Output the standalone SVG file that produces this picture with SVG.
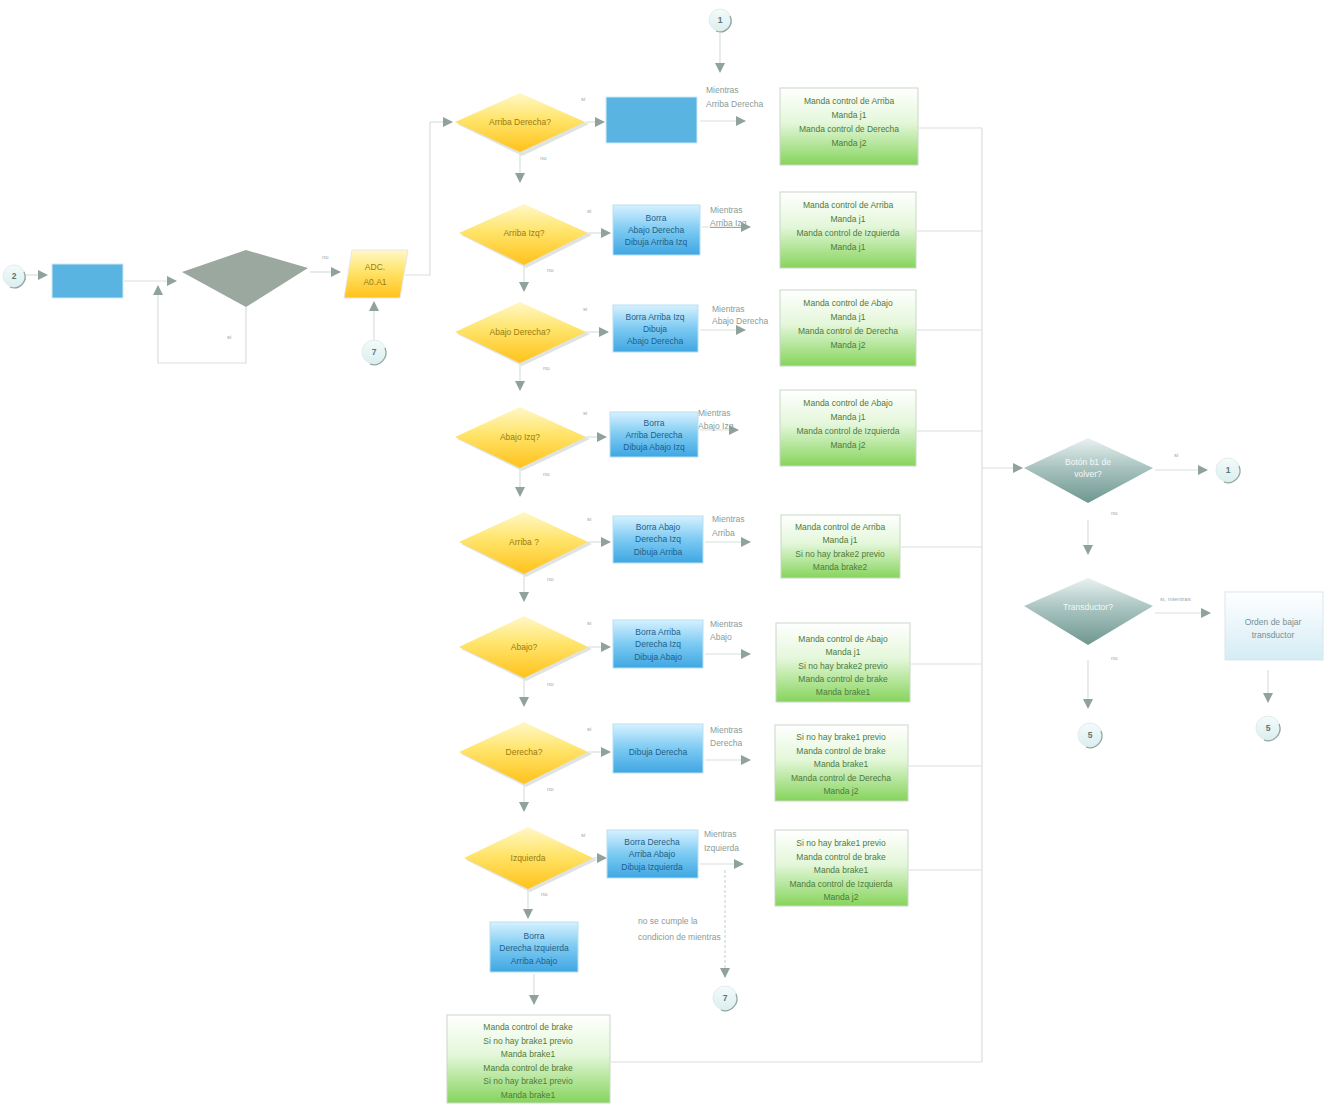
<svg xmlns="http://www.w3.org/2000/svg" width="1324" height="1105" viewBox="0 0 1324 1105">
<defs>
<marker id="ah" markerUnits="userSpaceOnUse" markerWidth="10" markerHeight="10" refX="9" refY="5" orient="auto"><path d="M0,0 L10,5 L0,10 z" fill="#8fa39c"/></marker>
<linearGradient id="gy" x1="0" y1="0" x2="0" y2="1"><stop offset="0" stop-color="#fff8c8"/><stop offset="0.45" stop-color="#ffe46a"/><stop offset="1" stop-color="#ffc21a"/></linearGradient>
<linearGradient id="gb" x1="0" y1="0" x2="0" y2="1"><stop offset="0" stop-color="#d6f1ff"/><stop offset="0.5" stop-color="#7ccaf2"/><stop offset="1" stop-color="#3fa6e2"/></linearGradient>
<linearGradient id="gg" x1="0" y1="0" x2="0" y2="1"><stop offset="0" stop-color="#ffffff"/><stop offset="0.45" stop-color="#e4f7da"/><stop offset="1" stop-color="#86d45c"/></linearGradient>
<linearGradient id="gt" x1="0" y1="0" x2="0" y2="1"><stop offset="0" stop-color="#e8f2f0"/><stop offset="0.45" stop-color="#a9c4c0"/><stop offset="1" stop-color="#6f9690"/></linearGradient>
<linearGradient id="gl" x1="0" y1="0" x2="0" y2="1"><stop offset="0" stop-color="#ffffff"/><stop offset="1" stop-color="#d4ecf6"/></linearGradient>
<linearGradient id="gc" x1="0" y1="0" x2="0" y2="1"><stop offset="0" stop-color="#f4fbfb"/><stop offset="1" stop-color="#dbeeee"/></linearGradient>
</defs>
<style>
.c{stroke:#d8dfdd;stroke-width:1.2;fill:none}
.ca{stroke:#d8dfdd;stroke-width:1.2;fill:none;marker-end:url(#ah)}
.dash{stroke:#d0d8d6;stroke-width:1.2;fill:none;stroke-dasharray:3 2;marker-end:url(#ah)}
.t{font-family:"Liberation Sans",Arial,sans-serif;font-size:8.5px;text-anchor:middle}
.lb{font-family:"Liberation Sans",Arial,sans-serif;font-size:8.5px;fill:#8a9c97}
.sm{font-family:"Liberation Sans",Arial,sans-serif;font-size:6px;fill:#9aaaa6}
.dy{fill:url(#gy)}
.sh{fill:#dfe3e2}
.yt{fill:#9a7a10}
.bb{fill:url(#gb);stroke:#b8dff2;stroke-width:1}
.bt{fill:#1f5f8a}
.gbx{fill:url(#gg);stroke:#c8d8c8;stroke-width:1}
.gt{fill:#4f7a3c}
.cc{fill:url(#gc);stroke:#e2ecec;stroke-width:1}
.arc{fill:none;stroke:#8fa6a2;stroke-width:1.3}
.ct{fill:#5d7470;font-weight:bold}
</style>

<g id="connectors">
<line class="ca" x1="720" y1="33" x2="720" y2="72"/>
<line class="ca" x1="26" y1="275" x2="47" y2="275"/>
<line class="ca" x1="124" y1="281" x2="176" y2="281"/>
<polyline class="c" points="246,307 246,363 158,363 158,300"/>
<line class="ca" x1="158" y1="300" x2="158" y2="286"/>
<line class="ca" x1="310" y1="272" x2="340" y2="272"/>
<line class="ca" x1="374" y1="340" x2="374" y2="302"/>
<polyline class="c" points="405,275 430,275 430,122"/>
<line class="ca" x1="430" y1="122" x2="452" y2="122"/>
<line class="ca" x1="520" y1="153" x2="520" y2="182"/>
<line class="ca" x1="524" y1="265" x2="524" y2="291"/>
<line class="ca" x1="520" y1="363" x2="520" y2="390"/>
<line class="ca" x1="520" y1="468" x2="520" y2="496"/>
<line class="ca" x1="524" y1="574" x2="524" y2="601"/>
<line class="ca" x1="524" y1="678" x2="524" y2="706"/>
<line class="ca" x1="524" y1="784" x2="524" y2="811"/>
<line class="ca" x1="528" y1="889" x2="528" y2="918"/>
<line class="ca" x1="534" y1="974" x2="534" y2="1004"/>
<line class="ca" x1="586" y1="122" x2="604" y2="122"/>
<line class="ca" x1="588" y1="233" x2="610" y2="233"/>
<line class="ca" x1="586" y1="332" x2="608" y2="332"/>
<line class="ca" x1="586" y1="437" x2="606" y2="437"/>
<line class="ca" x1="588" y1="542" x2="610" y2="542"/>
<line class="ca" x1="588" y1="647" x2="610" y2="647"/>
<line class="ca" x1="588" y1="752" x2="610" y2="752"/>
<line class="ca" x1="593" y1="858" x2="606" y2="858"/>
<line class="ca" x1="700" y1="121" x2="745" y2="121"/>
<line class="ca" x1="702" y1="227" x2="750" y2="227"/>
<line class="ca" x1="700" y1="330" x2="745" y2="330"/>
<line class="ca" x1="700" y1="430" x2="738" y2="430"/>
<line class="ca" x1="705" y1="542" x2="750" y2="542"/>
<line class="ca" x1="705" y1="654" x2="750" y2="654"/>
<line class="ca" x1="705" y1="760" x2="750" y2="760"/>
<line class="ca" x1="700" y1="864" x2="743" y2="864"/>
<line class="dash" x1="725" y1="870" x2="725" y2="977"/>
<line class="c" x1="919" y1="128" x2="982" y2="128"/>
<line class="c" x1="917" y1="231" x2="982" y2="231"/>
<line class="c" x1="917" y1="330" x2="982" y2="330"/>
<line class="c" x1="917" y1="431" x2="982" y2="431"/>
<line class="c" x1="901" y1="547" x2="982" y2="547"/>
<line class="c" x1="911" y1="664" x2="982" y2="664"/>
<line class="c" x1="909" y1="766" x2="982" y2="766"/>
<line class="c" x1="909" y1="870" x2="982" y2="870"/>
<line class="c" x1="611" y1="1062" x2="982" y2="1062"/>
<line class="c" x1="982" y1="128" x2="982" y2="1062"/>
<line class="ca" x1="982" y1="468" x2="1022" y2="468"/>
<line class="ca" x1="1155" y1="470" x2="1207" y2="470"/>
<line class="ca" x1="1088" y1="520" x2="1088" y2="554"/>
<line class="ca" x1="1155" y1="613" x2="1210" y2="613"/>
<line class="ca" x1="1088" y1="660" x2="1088" y2="708"/>
<line class="ca" x1="1268" y1="670" x2="1268" y2="702"/>
</g>

<g id="labels">
<text class="sm" x="322" y="259">no</text>
<text class="sm" x="227" y="339">si</text>
<text class="sm" x="581" y="101">si</text><text class="sm" x="540" y="160">no</text>
<text class="sm" x="587" y="213">si</text><text class="sm" x="547" y="272">no</text>
<text class="sm" x="583" y="311">si</text><text class="sm" x="543" y="370">no</text>
<text class="sm" x="583" y="415">si</text><text class="sm" x="543" y="476">no</text>
<text class="sm" x="587" y="521">si</text><text class="sm" x="547" y="581">no</text>
<text class="sm" x="587" y="625">si</text><text class="sm" x="547" y="686">no</text>
<text class="sm" x="587" y="731">si</text><text class="sm" x="547" y="791">no</text>
<text class="sm" x="581" y="837">si</text><text class="sm" x="541" y="896">no</text>
<text class="lb" x="706" y="93">Mientras</text><text class="lb" x="706" y="107">Arriba Derecha</text>
<text class="lb" x="710" y="213">Mientras</text><text class="lb" x="710" y="226" text-decoration="underline">Arriba Izq</text>
<text class="lb" x="712" y="312">Mientras</text><text class="lb" x="712" y="324">Abajo Derecha</text>
<text class="lb" x="698" y="416">Mientras</text><text class="lb" x="698" y="429">Abajo Izq</text>
<text class="lb" x="712" y="522">Mientras</text><text class="lb" x="712" y="536">Arriba</text>
<text class="lb" x="710" y="627">Mientras</text><text class="lb" x="710" y="640">Abajo</text>
<text class="lb" x="710" y="733">Mientras</text><text class="lb" x="710" y="746">Derecha</text>
<text class="lb" x="704" y="837">Mientras</text><text class="lb" x="704" y="851">Izquierda</text>
<text class="lb" x="638" y="924">no se cumple la</text><text class="lb" x="638" y="940">condicion de mientras</text>
<text class="sm" x="1174" y="457">si</text>
<text class="sm" x="1111" y="515">no</text>
<text class="sm" x="1160" y="601">si, mientras</text>
<text class="sm" x="1111" y="660">no</text>
</g>

<g id="c-top"><circle class="cc" cx="720" cy="20" r="11"/><path class="arc" d="M730,16 A11,11 0 0 1 716,31"/><text class="t ct" x="720" y="23">1</text></g>
<g id="c-2"><circle class="cc" cx="14" cy="276" r="11"/><path class="arc" d="M24,272 A11,11 0 0 1 10,287"/><text class="t ct" x="14" y="279">2</text></g>
<g id="c-7a"><circle class="cc" cx="374" cy="352" r="12"/><path class="arc" d="M385,348 A12,12 0 0 1 370,364"/><text class="t ct" x="374" y="355">7</text></g>
<g id="c-7b"><circle class="cc" cx="725" cy="998" r="12"/><path class="arc" d="M736,994 A12,12 0 0 1 721,1010"/><text class="t ct" x="725" y="1001">7</text></g>
<g id="c-1"><circle class="cc" cx="1228" cy="470" r="12"/><path class="arc" d="M1239,466 A12,12 0 0 1 1224,482"/><text class="t ct" x="1228" y="473">1</text></g>
<g id="c-5a"><circle class="cc" cx="1090" cy="735" r="12"/><path class="arc" d="M1101,731 A12,12 0 0 1 1086,747"/><text class="t ct" x="1090" y="738">5</text></g>
<g id="c-5b"><circle class="cc" cx="1268" cy="728" r="12"/><path class="arc" d="M1279,724 A12,12 0 0 1 1264,740"/><text class="t ct" x="1268" y="731">5</text></g>

<g id="n-left-rect"><rect x="52" y="264" width="71" height="34" fill="#5ab4e2" stroke="#cfe9f6"/></g>
<g id="n-left-diamond"><polygon points="246,250 308,268 246,307 182,272" fill="#9aa89f"/></g>
<g id="n-adc"><polygon points="352,250 408,250 400,298 344,298" fill="url(#gy)" stroke="#e6e6e6"/><text class="t yt" x="375" y="270">ADC.</text><text class="t yt" x="375" y="285">A0.A1</text></g>

<g id="d1"><polygon class="sh" points="522,95 589,124 522,156 457,124"/><polygon class="dy" points="520,93 585,122 520,152 455,122"/><text class="t yt" x="520" y="125">Arriba Derecha?</text></g>
<g id="d2"><polygon class="sh" points="526,206 592,235 526,268 461,235"/><polygon class="dy" points="524,204 588,233 524,265 459,233"/><text class="t yt" x="524" y="236">Arriba Izq?</text></g>
<g id="d3"><polygon class="sh" points="522,304 590,334 522,366 457,334"/><polygon class="dy" points="520,302 586,332 520,363 455,332"/><text class="t yt" x="520" y="335">Abajo Derecha?</text></g>
<g id="d4"><polygon class="sh" points="522,409 590,439 522,471 457,439"/><polygon class="dy" points="520,407 586,437 520,468 455,437"/><text class="t yt" x="520" y="440">Abajo Izq?</text></g>
<g id="d5"><polygon class="sh" points="526,514 592,544 526,577 461,544"/><polygon class="dy" points="524,512 588,542 524,574 459,542"/><text class="t yt" x="524" y="545">Arriba ?</text></g>
<g id="d6"><polygon class="sh" points="526,618 592,649 526,681 461,649"/><polygon class="dy" points="524,616 588,647 524,678 459,647"/><text class="t yt" x="524" y="650">Abajo?</text></g>
<g id="d7"><polygon class="sh" points="526,724 592,754 526,787 461,754"/><polygon class="dy" points="524,722 588,752 524,784 459,752"/><text class="t yt" x="524" y="755">Derecha?</text></g>
<g id="d8"><polygon class="sh" points="530,829 597,860 530,892 466,860"/><polygon class="dy" points="528,827 593,858 528,889 464,858"/><text class="t yt" x="528" y="861">Izquierda</text></g>

<g id="b1"><rect x="606" y="97" width="91" height="46" fill="#5ab4e2" stroke="#cfe9f6"/></g>
<g id="b2"><rect class="bb" x="613" y="205" width="87" height="50"/><text class="t bt" x="656" y="221">Borra</text><text class="t bt" x="656" y="233">Abajo Derecha</text><text class="t bt" x="656" y="245">Dibuja Arriba Izq</text></g>
<g id="b3"><rect class="bb" x="613" y="305" width="85" height="47"/><text class="t bt" x="655" y="320">Borra Arriba Izq</text><text class="t bt" x="655" y="332">Dibuja</text><text class="t bt" x="655" y="344">Abajo Derecha</text></g>
<g id="b4"><rect class="bb" x="610" y="412" width="88" height="45"/><text class="t bt" x="654" y="426">Borra</text><text class="t bt" x="654" y="438">Arriba Derecha</text><text class="t bt" x="654" y="450">Dibuja Abajo Izq</text></g>
<g id="b5"><rect class="bb" x="613" y="516" width="90" height="47"/><text class="t bt" x="658" y="530">Borra Abajo</text><text class="t bt" x="658" y="542">Derecha Izq</text><text class="t bt" x="658" y="555">Dibuja Arriba</text></g>
<g id="b6"><rect class="bb" x="613" y="620" width="90" height="48"/><text class="t bt" x="658" y="635">Borra Arriba</text><text class="t bt" x="658" y="647">Derecha Izq</text><text class="t bt" x="658" y="660">Dibuja Abajo</text></g>
<g id="b7"><rect class="bb" x="613" y="724" width="90" height="49"/><text class="t bt" x="658" y="755">Dibuja Derecha</text></g>
<g id="b8"><rect class="bb" x="607" y="830" width="91" height="48"/><text class="t bt" x="652" y="845">Borra Derecha</text><text class="t bt" x="652" y="857">Arriba Abajo</text><text class="t bt" x="652" y="870">Dibuja Izquierda</text></g>
<g id="b9"><rect class="bb" x="490" y="922" width="88" height="50"/><text class="t bt" x="534" y="939">Borra</text><text class="t bt" x="534" y="951">Derecha Izquierda</text><text class="t bt" x="534" y="964">Arriba Abajo</text></g>

<g id="g1"><rect class="gbx" x="780" y="88" width="138" height="77"/><text class="t gt" x="849" y="104">Manda control de Arriba</text><text class="t gt" x="849" y="118">Manda j1</text><text class="t gt" x="849" y="132">Manda control de Derecha</text><text class="t gt" x="849" y="146">Manda j2</text></g>
<g id="g2"><rect class="gbx" x="780" y="192" width="136" height="76"/><text class="t gt" x="848" y="208">Manda control de Arriba</text><text class="t gt" x="848" y="222">Manda j1</text><text class="t gt" x="848" y="236">Manda control de Izquierda</text><text class="t gt" x="848" y="250">Manda j1</text></g>
<g id="g3"><rect class="gbx" x="780" y="290" width="136" height="76"/><text class="t gt" x="848" y="306">Manda control de Abajo</text><text class="t gt" x="848" y="320">Manda j1</text><text class="t gt" x="848" y="334">Manda control de Derecha</text><text class="t gt" x="848" y="348">Manda j2</text></g>
<g id="g4"><rect class="gbx" x="780" y="390" width="136" height="76"/><text class="t gt" x="848" y="406">Manda control de Abajo</text><text class="t gt" x="848" y="420">Manda j1</text><text class="t gt" x="848" y="434">Manda control de Izquierda</text><text class="t gt" x="848" y="448">Manda j2</text></g>
<g id="g5"><rect class="gbx" x="781" y="515" width="119" height="63"/><text class="t gt" x="840" y="530">Manda control de Arriba</text><text class="t gt" x="840" y="543">Manda j1</text><text class="t gt" x="840" y="557">Si no hay brake2 previo</text><text class="t gt" x="840" y="570">Manda brake2</text></g>
<g id="g6"><rect class="gbx" x="776" y="623" width="134" height="79"/><text class="t gt" x="843" y="642">Manda control de Abajo</text><text class="t gt" x="843" y="655">Manda j1</text><text class="t gt" x="843" y="669">Si no hay brake2 previo</text><text class="t gt" x="843" y="682">Manda control de brake</text><text class="t gt" x="843" y="695">Manda brake1</text></g>
<g id="g7"><rect class="gbx" x="775" y="725" width="133" height="76"/><text class="t gt" x="841" y="740">Si no hay brake1 previo</text><text class="t gt" x="841" y="754">Manda control de brake</text><text class="t gt" x="841" y="767">Manda brake1</text><text class="t gt" x="841" y="781">Manda control de Derecha</text><text class="t gt" x="841" y="794">Manda j2</text></g>
<g id="g8"><rect class="gbx" x="775" y="830" width="133" height="76"/><text class="t gt" x="841" y="846">Si no hay brake1 previo</text><text class="t gt" x="841" y="860">Manda control de brake</text><text class="t gt" x="841" y="873">Manda brake1</text><text class="t gt" x="841" y="887">Manda control de Izquierda</text><text class="t gt" x="841" y="900">Manda j2</text></g>
<g id="g9"><rect class="gbx" x="447" y="1015" width="163" height="88"/><text class="t gt" x="528" y="1030">Manda control de brake</text><text class="t gt" x="528" y="1044">Si no hay brake1 previo</text><text class="t gt" x="528" y="1057">Manda brake1</text><text class="t gt" x="528" y="1071">Manda control de brake</text><text class="t gt" x="528" y="1084">Si no hay brake1 previo</text><text class="t gt" x="528" y="1098">Manda brake1</text></g>

<g id="r1"><polygon points="1088,438 1153,468 1088,503 1024,468" fill="url(#gt)"/><text class="t" x="1088" y="465" fill="#f4f8f8">Botón b1 de</text><text class="t" x="1088" y="477" fill="#f4f8f8">volver?</text></g>
<g id="r2"><polygon points="1088,578 1153,606 1088,645 1024,606" fill="url(#gt)"/><text class="t" x="1088" y="610" fill="#f4f8f8">Transductor?</text></g>
<g id="r3"><rect x="1225" y="592" width="98" height="68" fill="url(#gl)" stroke="#dde6ea"/><text class="t" x="1273" y="625" fill="#7c8e92">Orden de bajar</text><text class="t" x="1273" y="638" fill="#7c8e92">transductor</text></g>
</svg>
